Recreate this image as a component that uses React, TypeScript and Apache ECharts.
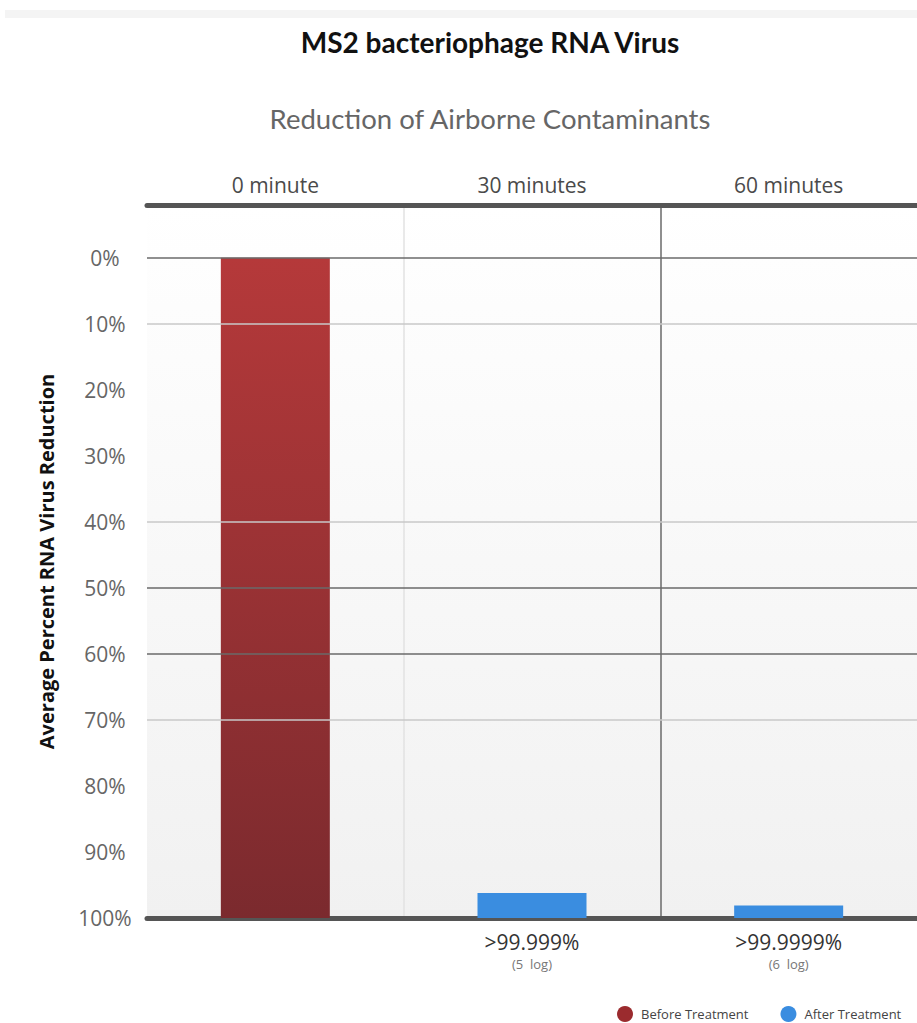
import React, { useEffect, useRef } from "react";
import * as echarts from "echarts";

const categories = ["0 minute", "30 minutes", "60 minutes"];
// bar heights measured up from the 100% baseline (axis is shown as 100 - value)
const beforeValues = [100, null, null];
const afterValues = [null, 3.8, 1.9];
const reductionLabels = ["", ">99.999%", ">99.9999%"];
const logLabels = ["", "(5  log)", "(6  log)"];
const strongGridPercents = [0, 50, 60];
const lightGridPercents = [10, 40, 70];

const FONT = "'Open Sans', 'Noto Sans', sans-serif";

export default function App() {
  const ref = useRef<HTMLDivElement>(null);

  useEffect(() => {
    if (!ref.current) return;
    const chart = echarts.init(ref.current, undefined, { renderer: "svg" });

    const gridLines = [
      ...strongGridPercents.map((p) => ({
        yAxis: 100 - p,
        lineStyle: { color: "#6a6a6a", width: 1.5, type: "solid" },
      })),
      ...lightGridPercents.map((p) => ({
        yAxis: 100 - p,
        lineStyle: { color: "#c8c8c8", width: 1.5, type: "solid" },
      })),
    ];

    chart.setOption({
      animation: false,
      backgroundColor: "#ffffff",
      textStyle: { fontFamily: FONT },
      graphic: [
        {
          type: "rect",
          shape: { x: 5, y: 10, width: 912, height: 8 },
          style: { fill: "#f4f4f4" },
          z: -1,
        },
        {
          type: "text",
          x: 490,
          y: 42,
          style: {
            text: "MS2 bacteriophage RNA Virus",
            fontFamily: "Lato, 'Open Sans', sans-serif",
            fontWeight: "bold",
            fontSize: 28,
            fill: "#111",
            textAlign: "center",
            textVerticalAlign: "middle",
          },
        },
        {
          type: "text",
          x: 490,
          y: 118,
          style: {
            text: "Reduction of Airborne Contaminants",
            fontFamily: "Lato, 'Open Sans', sans-serif",
            fontSize: 27.5,
            fill: "#666",
            textAlign: "center",
            textVerticalAlign: "middle",
          },
        },
      ],
      legend: {
        left: 612,
        top: 1001,
        width: 600,
        icon: "circle",
        itemWidth: 22,
        itemHeight: 16,
        itemGap: 32,
        textStyle: { fontSize: 13, color: "#444", fontFamily: FONT },
        data: [
          { name: "Before Treatment", itemStyle: { color: "#9b2b2e" } },
          { name: "After Treatment", itemStyle: { color: "#3a8de0" } },
        ],
      },
      grid: {
        left: 147,
        right: -3,
        top: 205,
        bottom: 105,
        show: true,
        borderWidth: 0,
        backgroundColor: new echarts.graphic.LinearGradient(0, 0, 0, 1, [
          { offset: 0, color: "#ffffff" },
          { offset: 1, color: "#f1f1f1" },
        ]),
      },
      xAxis: [
        {
          type: "category",
          position: "top",
          data: categories,
          axisLine: { show: true, onZero: false, lineStyle: { color: "#555", width: 5 } },
          axisTick: { show: false },
          axisLabel: { color: "#4a4a4a", fontSize: 21, margin: 10, fontFamily: FONT },
          splitLine: {
            show: true,
            interval: 0,
            lineStyle: { color: ["transparent", "#e2e2e2", "#6a6a6a", "transparent"], width: 1.5 },
          },
        },
        {
          type: "category",
          position: "bottom",
          data: categories,
          axisLine: { show: true, onZero: false, lineStyle: { color: "#555", width: 5 } },
          axisTick: { show: false },
          axisLabel: {
            margin: 10,
            formatter: (_v: string, i: number) =>
              reductionLabels[i] ? `{a|${reductionLabels[i]}}\n{b|${logLabels[i]}}` : "",
            rich: {
              a: { fontSize: 21, color: "#333", lineHeight: 27, fontFamily: FONT },
              b: { fontSize: 13, color: "#777", lineHeight: 18, fontFamily: FONT },
            },
          },
          splitLine: { show: false },
        },
      ],
      yAxis: {
        type: "value",
        min: 0,
        max: 108,
        interval: 10,
        name: "Average Percent RNA Virus Reduction",
        nameLocation: "middle",
        nameGap: 91,
        nameTextStyle: { fontSize: 20, fontWeight: "bold", color: "#111", fontFamily: FONT },
        axisLine: { show: false },
        axisTick: { show: false },
        splitLine: { show: false },
        axisLabel: {
          color: "#666",
          fontSize: 21,
          align: "center",
          margin: 42,
          fontFamily: FONT,
          formatter: (v: number) => (v > 100 ? "" : `${100 - v}%`),
        },
      },
      series: [
        {
          name: "gridlines",
          type: "line",
          data: [],
          z: 1,
          silent: true,
          markLine: {
            silent: true,
            symbol: ["none", "none"],
            label: { show: false },
            data: gridLines,
          },
        },
        {
          name: "Before Treatment",
          type: "bar",
          xAxisIndex: 0,
          data: beforeValues,
          barWidth: 109,
          barGap: "-100%",
          z: 3,
          itemStyle: {
            color: new echarts.graphic.LinearGradient(0, 0, 0, 1, [
              { offset: 0, color: "#b5393a" },
              { offset: 1, color: "#7b2a2e" },
            ]),
          },
        },
        {
          name: "After Treatment",
          type: "bar",
          xAxisIndex: 0,
          data: afterValues,
          barWidth: 109,
          barGap: "-100%",
          z: 3,
          itemStyle: { color: "#3a8de0" },
        },
      ],
    });

    return () => chart.dispose();
  }, []);

  return (
    <div
      ref={ref}
      style={{ position: "absolute", left: 0, top: 0, width: 917, height: 1023 }}
    />
  );
}
